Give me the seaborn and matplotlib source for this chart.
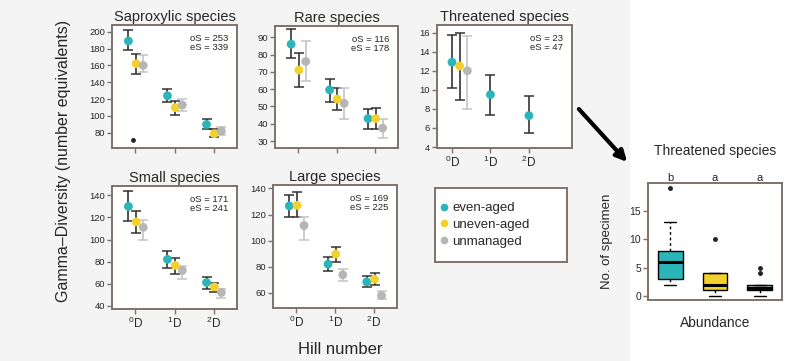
import numpy as np
import pandas as pd
import matplotlib
matplotlib.use("Agg")
import matplotlib.pyplot as plt
import seaborn as sns
from matplotlib.patches import Rectangle, FancyArrowPatch
from matplotlib.lines import Line2D

# ─── Data ──────────────────────────────────────────────────────────────────────

HILL_LABELS = ["$^0$D", "$^1$D", "$^2$D"]
GROUPS = ["even-aged", "uneven-aged", "unmanaged"]

# gamma diversity; rows = even-aged, uneven-aged, unmanaged; cols = 0D, 1D, 2D
SAPROX_MEAN = [[189, 124, 90], [162, 110, 79], [160, 113, 82]]
SAPROX_LO = [[178, 117, 84], [150, 101, 75], [152, 106, 78]]
SAPROX_HI = [[202, 132, 97], [174, 118, 84], [172, 120, 87]]
SAPROX_STRAY = [71]

RARE_MEAN = [[86, 59.6, 43], [71, 54.3, 43], [76, 51.8, 37.5]]
RARE_LO = [[78, 52.7, 36.7], [61, 47.8, 37], [64.5, 43, 32]]
RARE_HI = [[94.5, 66, 48.8], [81, 60.6, 49.4], [87.6, 60.6, 42.5]]

NAN = np.nan
THREAT_MEAN = [[12.9, 9.5, 7.3], [12.5, NAN, NAN], [12.0, NAN, NAN]]
THREAT_LO = [[10.2, 7.4, 5.5], [8.9, NAN, NAN], [8.0, NAN, NAN]]
THREAT_HI = [[15.75, 11.6, 9.4], [16.0, NAN, NAN], [15.6, NAN, NAN]]

SMALL_MEAN = [[130, 82, 61], [116, 76.5, 57], [111, 72, 52]]
SMALL_LO = [[117, 74, 55], [105.7, 69, 52], [100, 64, 47]]
SMALL_HI = [[144, 90, 66], [126, 83.5, 61], [118, 76, 55]]

LARGE_MEAN = [[126.6, 82, 68.4], [127, 89.7, 70.5], [111.6, 73.8, 58]]
LARGE_LO = [[118, 76.8, 64.5], [118, 83.7, 66], [100.8, 69, 55]]
LARGE_HI = [[134.8, 87.7, 73], [137.4, 94.8, 75.5], [118, 78, 61.3]]

OBS_S = [253, 116, 23, 171, 169]
EST_S = [339, 178, 47, 241, 225]

# threatened species abundance per plot (inset boxplot)
BOX_EVEN = [2, 2, 3, 3, 4, 5, 6, 7, 7, 8, 10, 13, 19]
BOX_UNEVEN = [0, 1, 1, 2, 2, 3, 4, 4, 10]
BOX_UNMANAGED = [0, 1, 1, 1, 1, 2, 2, 2, 4, 5]
BOX_LETTERS = ["b", "a", "a"]

# ─── Style ─────────────────────────────────────────────────────────────────────

COLORS = ["#2bb5b8", "#f3d12c", "#b6b6b6"]
ERR_COLORS = ["#333333", "#333333", "#c4c4c4"]
FRAME = "#7d726c"
TEXT = "#262626"
W, H = 790, 361

sns.set_theme(style="ticks")
plt.rcParams["font.family"] = ["Liberation Sans", "DejaVu Sans"]
plt.rcParams["mathtext.fontset"] = "custom"
plt.rcParams["mathtext.rm"] = "Liberation Sans"
plt.rcParams["mathtext.it"] = "Liberation Sans:italic"
plt.rcParams["text.color"] = TEXT


def px_axes(fig, x0, y0, x1, y1):
    """Add axes from pixel box (top-left origin)."""
    return fig.add_axes([x0 / W, 1 - y1 / H, (x1 - x0) / W, (y1 - y0) / H])


def style_frame(ax):
    for sp in ax.spines.values():
        sp.set_visible(True)
        sp.set_color(FRAME)
        sp.set_linewidth(1.4)
    ax.tick_params(colors=FRAME, labelcolor=TEXT, length=3.5, width=1, pad=1.5)
    ax.set_facecolor("white")


def draw_panel(ax, title, means, los, his, n_obs, n_est, yticks, ylim, xlim,
               offsets, show_xlabels):
    rows = []
    for g, group in enumerate(GROUPS):
        for h in range(3):
            if np.isnan(means[g][h]):
                continue
            rows.append({"group": group, "x": h + offsets[g], "mean": means[g][h],
                         "lo": los[g][h], "hi": his[g][h]})
    df = pd.DataFrame(rows)

    for g, group in enumerate(GROUPS):
        sub = df[df["group"] == group]
        ax.errorbar(sub["x"], sub["mean"],
                    yerr=[sub["mean"] - sub["lo"], sub["hi"] - sub["mean"]],
                    fmt="none", ecolor=ERR_COLORS[g], elinewidth=1.2,
                    capsize=3.5, capthick=1.1, zorder=2)
    sns.scatterplot(data=df, x="x", y="mean", hue="group", hue_order=GROUPS,
                    palette=COLORS, s=40, edgecolor="none", legend=False,
                    ax=ax, zorder=3)

    style_frame(ax)
    ax.set_xlim(*xlim)
    ax.set_ylim(*ylim)
    ax.set_yticks(yticks)
    ax.set_xticks([0, 1, 2])
    if show_xlabels:
        ax.set_xticklabels(HILL_LABELS, fontsize=8.5)
    else:
        ax.set_xticklabels([])
    ax.tick_params(axis="y", labelsize=6.8)
    ax.set_xlabel("")
    ax.set_ylabel("")
    ax.set_title(title, fontsize=10.5, pad=3)
    ax.text(0.93, 0.93, f"oS = {n_obs}\neS = {n_est}", transform=ax.transAxes,
            ha="right", va="top", fontsize=6.8, linespacing=1.0)


fig = plt.figure(figsize=(W / 100, H / 100), dpi=100)
fig.patch.set_facecolor("#f4f4f4")
fig.patches.append(Rectangle((630 / W, 0), 1 - 630 / W, 1, transform=fig.transFigure,
                             facecolor="white", edgecolor="none", zorder=-5))

STD_OFF = [-0.18, 0.02, 0.2]

ax1 = px_axes(fig, 112, 25, 237, 148)
draw_panel(ax1, "Saproxylic species", SAPROX_MEAN, SAPROX_LO, SAPROX_HI,
           OBS_S[0], EST_S[0], range(80, 201, 20), (62, 208), (-0.6, 2.6),
           STD_OFF, False)
sns.scatterplot(x=[-0.05] * len(SAPROX_STRAY), y=SAPROX_STRAY, color="#222222",
                s=12, edgecolor="none", ax=ax1)

ax2 = px_axes(fig, 275, 26, 398, 148)
draw_panel(ax2, "Rare species", RARE_MEAN, RARE_LO, RARE_HI,
           OBS_S[1], EST_S[1], range(30, 91, 10), (26, 96.5), (-0.6, 2.6),
           STD_OFF, False)

ax3 = px_axes(fig, 437, 25, 572, 148)
draw_panel(ax3, "Threatened species", THREAT_MEAN, THREAT_LO, THREAT_HI,
           OBS_S[2], EST_S[2], range(4, 17, 2), (3.9, 16.8), (-0.39, 3.12),
           [0.0, 0.2, 0.4], True)

ax4 = px_axes(fig, 112, 186, 237, 309)
draw_panel(ax4, "Small species", SMALL_MEAN, SMALL_LO, SMALL_HI,
           OBS_S[3], EST_S[3], range(40, 141, 20), (37, 148.5), (-0.6, 2.6),
           STD_OFF, True)

ax5 = px_axes(fig, 273, 185, 397, 308)
draw_panel(ax5, "Large species", LARGE_MEAN, LARGE_LO, LARGE_HI,
           OBS_S[4], EST_S[4], range(60, 141, 20), (48.4, 142.6), (-0.6, 2.6),
           STD_OFF, True)

# legend box
axl = px_axes(fig, 435, 188, 567, 262)
style_frame(axl)
axl.set_xticks([])
axl.set_yticks([])
handles = [Line2D([], [], marker="o", linestyle="none", markersize=5.5,
                  markerfacecolor=c, markeredgecolor="none") for c in COLORS]
axl.legend(handles, GROUPS, loc="center left", frameon=False, fontsize=9.5,
           handletextpad=0.2, labelspacing=0.35, borderaxespad=0.0,
           borderpad=0.3, handlelength=0.8)

fig.text(64 / W, 1 - 161 / H, "Gamma\u2013Diversity (number equivalents)",
         rotation=90, ha="center", va="center", fontsize=11.5)
fig.text(340 / W, 1 - 350 / H, "Hill number", ha="center", va="center",
         fontsize=12)

# arrow to inset
fig.patches.append(FancyArrowPatch((577 / W, 1 - 107 / H), (629 / W, 1 - 164 / H),
                                   transform=fig.transFigure, arrowstyle="-|>",
                                   mutation_scale=16, linewidth=3, color="black"))

# inset boxplot
box_df = pd.DataFrame({
    "group": [GROUPS[0]] * len(BOX_EVEN) + [GROUPS[1]] * len(BOX_UNEVEN)
    + [GROUPS[2]] * len(BOX_UNMANAGED),
    "count": BOX_EVEN + BOX_UNEVEN + BOX_UNMANAGED,
})
axb = px_axes(fig, 648, 183, 782, 300)
sns.boxplot(data=box_df, x="group", y="count", hue="group", order=GROUPS,
            hue_order=GROUPS, palette=COLORS, saturation=1, width=0.55,
            linecolor="black", linewidth=1.0, whis=1.5, fliersize=2.5,
            legend=False, ax=axb,
            medianprops=dict(linewidth=2.2),
            whiskerprops=dict(linestyle=(0, (2, 2))),
            flierprops=dict(marker="o", markerfacecolor="#222222",
                            markeredgecolor="#222222"))
style_frame(axb)
axb.set_xlim(-0.5, 2.5)
axb.set_ylim(-0.7, 19.9)
axb.set_yticks([0, 5, 10, 15])
axb.set_xticks([])
axb.tick_params(axis="y", labelsize=7.5)
axb.set_xlabel("Abundance", fontsize=10)
axb.xaxis.set_label_coords(0.5, -0.14)
axb.set_ylabel("No. of specimen", fontsize=9.5)
axb.yaxis.set_label_coords(-0.26, 0.5)
axb.set_title("Threatened species", fontsize=10, pad=20)
for i, letter in enumerate(BOX_LETTERS):
    axb.text(i, 1.045, letter, transform=axb.get_xaxis_transform(),
             ha="center", va="center", fontsize=8)

fig.savefig("out.png", dpi=100, facecolor=fig.get_facecolor())
